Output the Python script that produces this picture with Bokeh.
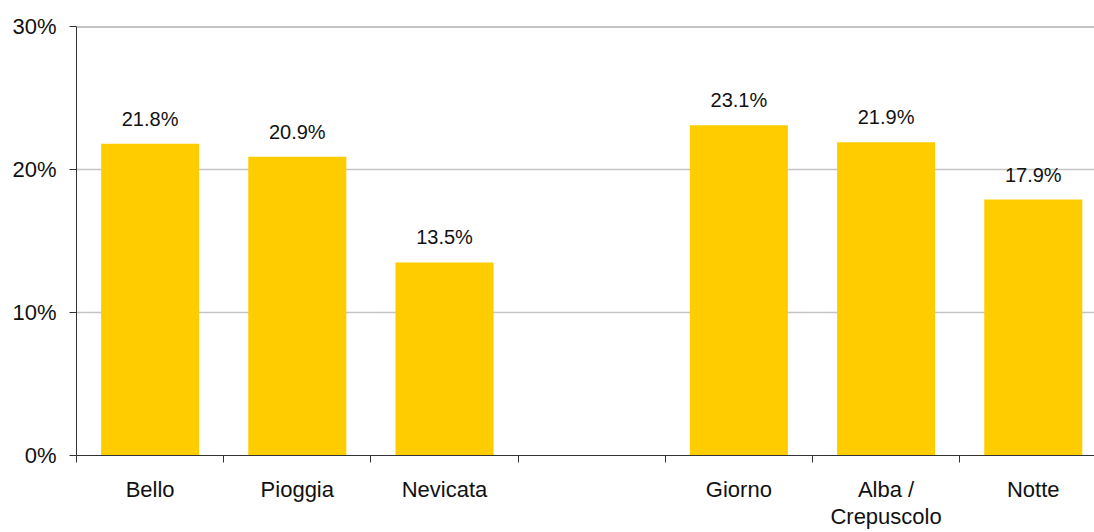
from bokeh.plotting import figure
from bokeh.models import ColumnDataSource, Range1d, FixedTicker, PrintfTickFormatter, Span
from bokeh.core.properties import value
from bokeh.embed import file_html
from bokeh.resources import INLINE

# --- data ---
categories = ["Bello", "Pioggia", "Nevicata", "", "Giorno", "Alba /\nCrepuscolo", "Notte"]
values = [21.8, 20.9, 13.5, None, 23.1, 21.9, 17.9]
y_ticks = [0, 10, 20, 30]

FONT = "Liberation Sans"
BAR = "#FFCC00"

slots = list(range(len(categories)))
xs = [i + 0.5 for i in slots if values[i] is not None]
ys = [values[i] for i in slots if values[i] is not None]
labs = ["%.1f%%" % values[i] for i in slots if values[i] is not None]
src = ColumnDataSource(dict(x=xs, y=ys, lab=labs))

p = figure(width=1094, height=532, output_backend="svg", toolbar_location=None,
           x_range=Range1d(0, 6.916), y_range=Range1d(0, 30),
           min_border_left=76, min_border_right=0, min_border_top=26, min_border_bottom=0)
p.outline_line_color = None
p.background_fill_color = "white"
p.border_fill_color = "white"

p.vbar(x="x", top="y", width=0.666, bottom=0, source=src, fill_color=BAR, line_color=None)
p.text(x="x", y="y", text="lab", source=src, text_align="center", text_baseline="alphabetic",
       y_offset=-25, text_font=value(FONT), text_font_size="20px", text_color="#111111")

# y axis
p.yaxis.ticker = FixedTicker(ticks=y_ticks)
p.yaxis.formatter = PrintfTickFormatter(format="%d%%")
p.yaxis.major_label_text_font = FONT
p.yaxis.major_label_text_font_size = "22px"
p.yaxis.major_label_text_color = "#111111"
p.yaxis.major_tick_out = 7
p.yaxis.major_tick_in = 0
p.yaxis.minor_tick_line_color = None
p.yaxis.major_label_standoff = 13
p.yaxis.axis_line_color = "#333333"
p.yaxis.major_tick_line_color = "#333333"

# x axis: labels at slot centres (major), boundary ticks (minor)
centres = [i + 0.5 for i in slots]
p.xaxis.ticker = FixedTicker(ticks=centres, minor_ticks=list(range(len(categories) + 1)))
p.xaxis.major_label_overrides = {c: lab for c, lab in zip(centres, categories)}
p.xaxis.major_label_text_font = FONT
p.xaxis.major_label_text_font_size = "22px"
p.xaxis.major_label_text_color = "#111111"
p.xaxis.major_label_text_line_height = 1.1
p.xaxis.major_tick_out = 0
p.xaxis.major_tick_in = 0
p.xaxis.minor_tick_out = 7
p.xaxis.minor_tick_in = 0
p.xaxis.minor_tick_line_color = "#333333"
p.xaxis.major_label_standoff = 14
p.xaxis.axis_line_color = "#333333"

p.xgrid.grid_line_color = None
p.ygrid.ticker = FixedTicker(ticks=y_ticks[:-1])
p.ygrid.grid_line_color = "#c4c4c4"
p.ygrid.grid_line_width = 1.5

p.add_layout(Span(location=30, dimension="width", line_color="#8a8a8a", line_width=2))

open("out.html", "w").write(file_html(p, INLINE))
